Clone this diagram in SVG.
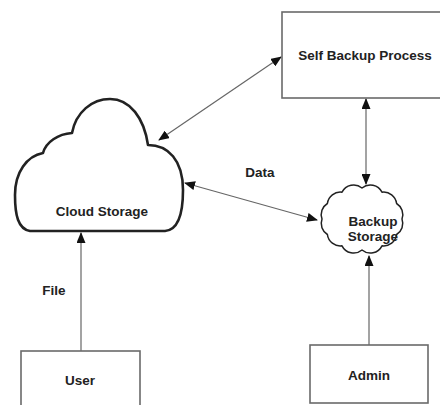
<svg xmlns="http://www.w3.org/2000/svg" width="440" height="405" viewBox="0 0 440 405">
<style>
.box{fill:#fff;stroke:#6a6a6a;stroke-width:1.6}
.lbl{font-family:"Liberation Sans",Arial,sans-serif;font-weight:bold;font-size:13.5px;fill:#222;text-anchor:middle}
.conn{fill:none;stroke:#666;stroke-width:1.2}
</style>
<defs>
<marker id="ah" markerUnits="userSpaceOnUse" markerWidth="11" markerHeight="9" refX="10" refY="4.5" orient="auto-start-reverse">
<path d="M0,0 L11,4.5 L0,9 Z" fill="#111"/>
</marker>
</defs>
<rect width="440" height="405" fill="#fff"/>
<g id="connectors">
<line class="conn" x1="159" y1="140" x2="281" y2="57" marker-start="url(#ah)" marker-end="url(#ah)"/>
<line class="conn" x1="185" y1="183" x2="317" y2="220" marker-start="url(#ah)" marker-end="url(#ah)"/>
<line class="conn" x1="366" y1="99" x2="366" y2="184" marker-start="url(#ah)" marker-end="url(#ah)"/>
<line class="conn" x1="369" y1="345" x2="369" y2="256" marker-end="url(#ah)"/>
<line class="conn" x1="81" y1="351" x2="81" y2="233" marker-end="url(#ah)"/>
<text class="lbl" x="260" y="177">Data</text>
<text class="lbl" x="54" y="295">File</text>
</g>
<g id="self-backup">
<rect class="box" x="282" y="12" width="170" height="86"/>
<text class="lbl" x="365" y="60">Self Backup Process</text>
</g>
<g id="cloud-storage">
<path d="M30,231 C18,229 15,215 15,195 C15,172 27,156 43,153 C46,142 58,134 72,133 C76,112 92,99 110,99 C130,99 144,118 148,145 C168,145 183,160 183,190 C183,215 178,230 165,231 Z" fill="#fff" stroke="#222" stroke-width="2.6" stroke-linejoin="round"/>
<text class="lbl" x="102" y="216">Cloud Storage</text>
</g>
<g id="backup-storage">
<path d="M402,219 A13,13 0 0 1 396.6,234.5 A13,13 0 0 1 382,245.8 A13,13 0 0 1 362,250 A13,13 0 0 1 342,245.8 A13,13 0 0 1 327.4,234.5 A13,13 0 0 1 322,219 A13,13 0 0 1 327.4,203.5 A13,13 0 0 1 342,192.2 A13,13 0 0 1 362,188 A13,13 0 0 1 382,192.2 A13,13 0 0 1 396.6,203.5 A13,13 0 0 1 402,219 Z" fill="#fff" stroke="#222" stroke-width="1.5" stroke-linejoin="round"/>
<text class="lbl" x="373" y="226">Backup</text>
<text class="lbl" x="373" y="241">Storage</text>
</g>
<g id="user">
<rect class="box" x="21" y="351" width="119" height="70"/>
<text class="lbl" x="80" y="385">User</text>
</g>
<g id="admin">
<rect class="box" x="310" y="345" width="118" height="58"/>
<text class="lbl" x="369" y="380">Admin</text>
</g>
</svg>
